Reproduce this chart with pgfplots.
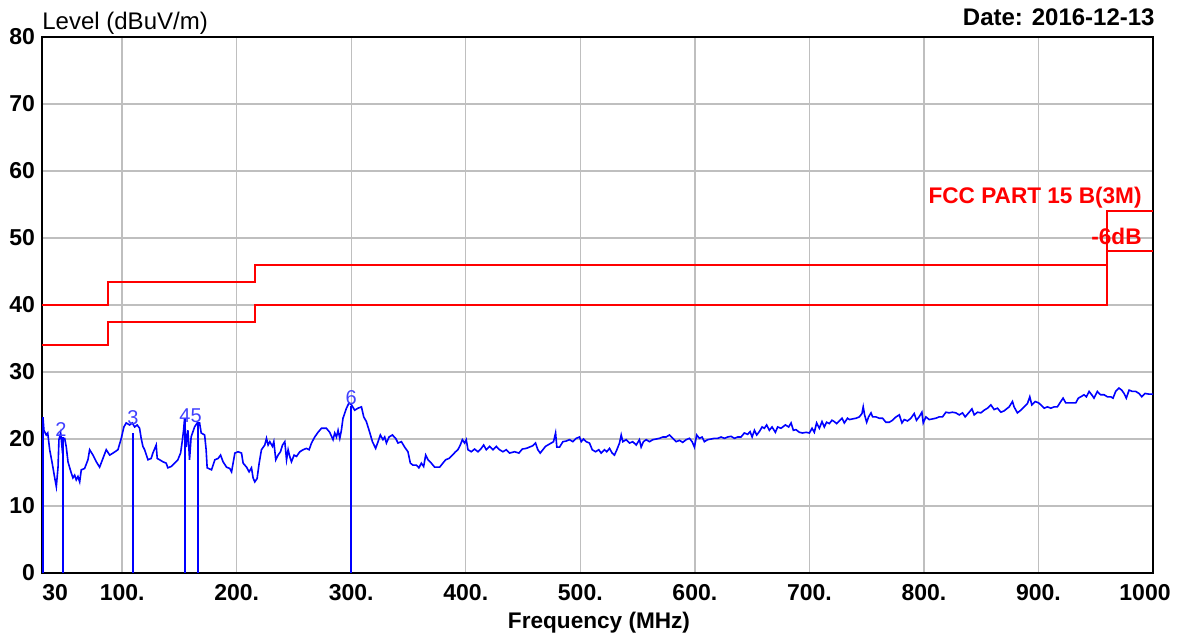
\documentclass[border=0pt]{standalone}
\usepackage{fontspec}
\setmainfont{Liberation Sans}
\usepackage{pgfplots}
\pgfplotsset{compat=1.18}
\begin{document}
\begin{tikzpicture}
\begin{axis}[
  at={(0pt,0pt)}, anchor=south west,
  scale only axis, width=555.5pt, height=268pt,
  xmin=30, xmax=1000, ymin=0, ymax=80,
  xtick={100,200,300,400,500,600,700,800,900},
  xticklabels={100.,200.,300.,400.,500.,600.,700.,800.,900.},
  ytick={0,10,20,30,40,50,60,70,80},
  yticklabels={0,10,20,30,40,50,60,70,80},
  grid=major,
  major grid style={black!25, line width=0.7pt},
  axis line style={line width=1.2pt},
  major tick length=0pt,
  tick label style={font=\fontsize{11.5}{13}\selectfont\bfseries},
  xticklabel style={anchor=base, yshift=-13.5pt},
]
\addplot[blue, line width=0.8pt] table {
30 21.5
30.9 23.1
31.7 21.3
33.7 20.6
35.0 20.9
36.7 18.4
38.7 16.6
41.1 14.2
42.5 12.9
44.0 15.8
44.8 19.9
46.3 20.9
47.4 18.9
48.3 20.1
49.8 20.1
51.2 18.8
52.7 16.6
54.2 15.7
55.6 14.9
57.0 14.2
58.5 14.6
59.9 13.9
61.4 14.4
62.9 13.6
64.3 15.4
67.2 15.6
70.1 16.9
71.6 18.4
74.5 17.6
77.4 16.6
80.3 15.8
83.2 17.1
86.1 18.4
89.1 17.6
92.0 17.9
96.3 18.4
99.2 20.1
101.5 21.8
103.5 22.4
106.5 22.1
108.8 22.4
110.9 21.8
113.1 22.1
115.2 21.6
116.6 20.1
118.1 18.9
119.6 18.4
122.5 16.9
125.3 17.1
126.8 17.9
129.7 19.1
130.6 17.1
132.7 16.9
135.6 16.6
138.4 16.4
139.9 15.7
142.8 15.9
145.8 16.4
148.6 16.9
151.0 17.9
152.4 19.6
153.6 21.3
154.5 23.1
155.9 18.8
157.4 21.3
158.8 16.9
160.2 20.3
163.2 21.8
165.5 22.4
167.6 22.4
169.0 20.9
172.0 20.6
173.3 18.4
174.2 15.7
178.0 15.4
180.9 16.9
183.8 17.1
185.9 17.6
188.1 16.6
191.1 15.8
194.0 15.6
195.5 15.1
198.4 17.9
201.2 18.1
204.2 17.9
205.6 16.4
208.6 15.8
210.8 15.1
212.9 15.7
214.3 14.2
215.8 13.6
217.8 14.1
219.6 16.4
221.6 18.4
224.5 19.1
226.0 20.1
227.4 19.1
228.9 19.6
231.2 18.9
232.4 19.6
234.1 16.9
236.1 17.6
238.2 18.1
240.0 19.1
242.0 19.6
243.5 16.9
244.9 18.4
246.3 17.4
247.8 16.6
250.1 17.6
252.2 17.4
255.1 18.1
258.0 18.4
260.9 18.6
263.2 18.4
265.3 19.4
268.1 20.3
271.0 21.0
274.0 21.6
278.3 21.6
281.2 21.0
284.1 19.9
285.6 20.9
287.1 20.3
288.5 21.3
290.0 20.1
291.4 21.3
292.8 23.1
295.8 24.6
298.1 25.4
300.2 25.1
303.0 24.3
305.9 24.6
308.9 24.8
310.9 23.3
313.2 22.6
316.1 21.0
318.5 19.6
321.3 18.6
323.4 19.6
325.4 20.6
327.7 19.9
329.2 20.3
330.7 19.4
333.0 20.3
335.9 20.6
338.8 20.1
340.8 19.4
343.8 19.6
346.6 18.8
349.5 18.1
351.6 16.4
353.9 16.1
356.8 16.1
359.1 15.7
361.2 16.4
363.2 15.9
365.0 17.6
367.0 16.9
369.9 16.4
372.8 15.8
377.2 15.8
380.0 16.4
382.4 16.9
385.3 17.1
388.3 17.6
391.1 18.1
393.1 18.4
395.2 19.1
397.0 19.9
399.0 19.4
400.4 19.9
401.9 18.4
404.8 18.1
407.7 18.5
410.6 18.1
413.5 18.6
415.6 19.1
417.9 18.4
420.8 18.9
423.7 18.4
426.6 18.9
429.5 18.4
432.4 18.1
435.4 18.4
438.2 17.9
442.6 18.1
446.4 17.9
449.3 18.5
452.8 18.6
455.7 18.8
458.6 19.0
460.9 19.4
462.9 18.4
465.0 17.9
467.3 18.4
469.6 18.9
471.6 19.1
474.6 19.4
476.6 19.6
478.4 20.9
479.5 18.8
481.9 18.8
484.8 19.6
487.7 19.7
490.6 19.9
493.5 19.6
496.4 20.1
499.3 20.3
500.8 19.6
502.8 20.0
505.1 19.6
508.0 19.4
510.4 18.4
513.3 18.1
516.1 18.4
518.2 17.9
521.1 18.4
523.1 18.1
525.5 18.6
527.8 17.9
529.8 17.6
531.9 18.4
534.2 19.4
535.7 20.6
537.1 19.6
540.0 19.9
543.0 19.4
545.8 19.6
548.8 19.1
551.6 19.9
553.1 18.8
555.1 19.6
557.5 19.9
560.4 19.6
563.3 19.9
566.2 20.0
569.1 20.1
572.0 20.3
574.9 20.3
577.8 20.6
580.7 20.1
583.6 19.6
586.6 19.8
589.4 19.5
592.4 19.9
595.3 20.1
597.6 19.6
599.6 18.8
601.6 20.6
604.0 20.1
606.3 20.3
608.3 19.6
611.2 19.9
614.2 20.0
617.1 20.1
620.0 20.1
622.9 20.3
625.8 20.1
628.7 20.3
631.6 20.4
634.5 20.1
637.4 20.3
640.3 20.3
643.2 20.9
646.1 20.7
648.2 21.1
650.0 20.3
652.0 21.3
654.0 20.6
656.3 21.1
658.7 21.8
660.7 21.6
662.7 22.1
665.0 21.3
667.4 21.8
670.3 21.0
672.3 21.8
675.2 21.6
679.0 22.1
681.9 21.8
684.0 22.4
686.0 21.3
688.3 21.4
691.2 21.0
694.1 20.9
697.1 21.0
700.0 20.9
702.3 21.6
704.3 21.0
706.3 22.4
708.7 21.6
711.0 22.6
713.0 21.8
715.0 22.5
717.4 22.3
719.7 22.8
721.7 22.6
723.8 22.3
726.1 22.7
728.5 23.1
730.5 22.4
733.3 23.1
735.0 22.9
737.7 23.0
740.7 23.1
743.6 23.3
745.9 23.8
747.0 24.8
748.2 23.6
750.0 22.5
751.7 23.3
753.8 23.9
755.2 23.3
758.1 23.3
761.0 23.1
763.9 23.1
766.8 22.5
769.7 22.5
772.6 22.8
775.6 23.3
778.5 23.6
780.8 22.4
782.8 22.9
785.7 22.7
788.6 23.1
791.5 23.8
793.5 22.8
795.8 23.3
798.2 24.0
799.4 22.4
801.7 23.3
804.6 22.9
807.5 23.0
810.4 23.1
813.3 23.3
816.2 23.3
819.2 24.0
822.0 23.9
824.9 24.0
827.9 23.9
830.8 23.6
833.7 23.9
836.0 23.3
839.5 24.0
841.9 24.5
843.9 23.6
846.8 24.0
849.7 23.9
852.6 24.3
855.5 24.6
858.4 25.1
861.3 24.4
864.2 24.6
867.2 24.0
870.0 24.2
872.9 24.6
874.4 24.8
877.3 25.6
878.7 24.8
881.6 23.9
884.6 24.3
887.5 24.8
890.4 25.3
892.4 26.3
894.2 25.1
897.1 25.6
900.0 25.4
902.1 25.1
905.0 24.6
907.8 24.8
910.8 24.6
913.7 24.8
916.5 24.8
919.5 25.6
921.5 26.1
923.8 25.4
926.7 25.4
929.6 25.4
932.6 25.4
934.8 26.1
936.9 26.3
939.8 26.6
941.8 26.3
944.2 27.1
946.5 26.6
948.5 26.1
951.4 27.1
952.9 26.8
954.4 26.6
957.3 26.6
960.2 26.3
963.1 26.3
965.1 26.1
967.4 27.1
970.3 27.6
972.7 27.3
974.7 26.8
976.7 26.1
979.1 27.3
982.0 27.1
984.9 27.1
987.8 26.8
990.2 26.3
993.0 26.8
996.5 26.7
1000 26.7
};
% marker lines
\addplot[blue, ycomb, line width=1pt] coordinates {
(31,23.3) (48.3,20.3) (109.1,20.9) (154.5,23.1) (166.5,22.4) (299.9,25.0)
};
% limit lines
\addplot[red, line width=1pt] coordinates {
(30,40) (88,40) (88,43.5) (216,43.5) (216,46) (960,46) (960,54) (1000,54)
};
\addplot[red, line width=1pt] coordinates {
(30,34) (88,34) (88,37.5) (216,37.5) (216,40) (960,40) (960,48) (1000,48)
};
\node[anchor=base east, inner sep=0, text=red, font=\fontsize{11.3}{13}\selectfont\bfseries] at (axis cs:990.4,55.1) {FCC PART 15 B(3M)};
\node[anchor=base east, inner sep=0, text=red, font=\fontsize{11.3}{13}\selectfont\bfseries] at (axis cs:990.4,49.1) {-6dB};
\node[anchor=base, inner sep=0, text=blue!75, font=\fontsize{10}{12}\selectfont] at (axis cs:46.6,20.4) {2};
\node[anchor=base, inner sep=0, text=blue!75, font=\fontsize{10}{12}\selectfont] at (axis cs:109.4,22.1) {3};
\node[anchor=base, inner sep=0, text=blue!75, font=\fontsize{10}{12}\selectfont] at (axis cs:159.7,22.5) {45};
\node[anchor=base, inner sep=0, text=blue!75, font=\fontsize{10}{12}\selectfont] at (axis cs:300,25.1) {6};
\end{axis}
\node[anchor=base west, inner sep=0, font=\fontsize{12}{14}\selectfont] at (0pt,272pt) {Level (dBuV/m)};
\node[anchor=base east, inner sep=0, font=\fontsize{12}{14}\selectfont\bfseries] at (556.5pt,274pt) {Date: 2016-12-13};
\node[anchor=base, inner sep=0, font=\fontsize{11.3}{14}\selectfont\bfseries] at (278.5pt,-27.5pt) {Frequency (MHz)};
\node[anchor=base west, inner sep=0, font=\fontsize{11.5}{13}\selectfont\bfseries] at (0pt,-13.5pt) {30};
\node[anchor=base, inner sep=0, font=\fontsize{11.5}{13}\selectfont\bfseries] at (551.5pt,-13.5pt) {1000};
\path (-21pt,-33pt) rectangle (573pt,286.5pt);
\end{tikzpicture}
\end{document}
